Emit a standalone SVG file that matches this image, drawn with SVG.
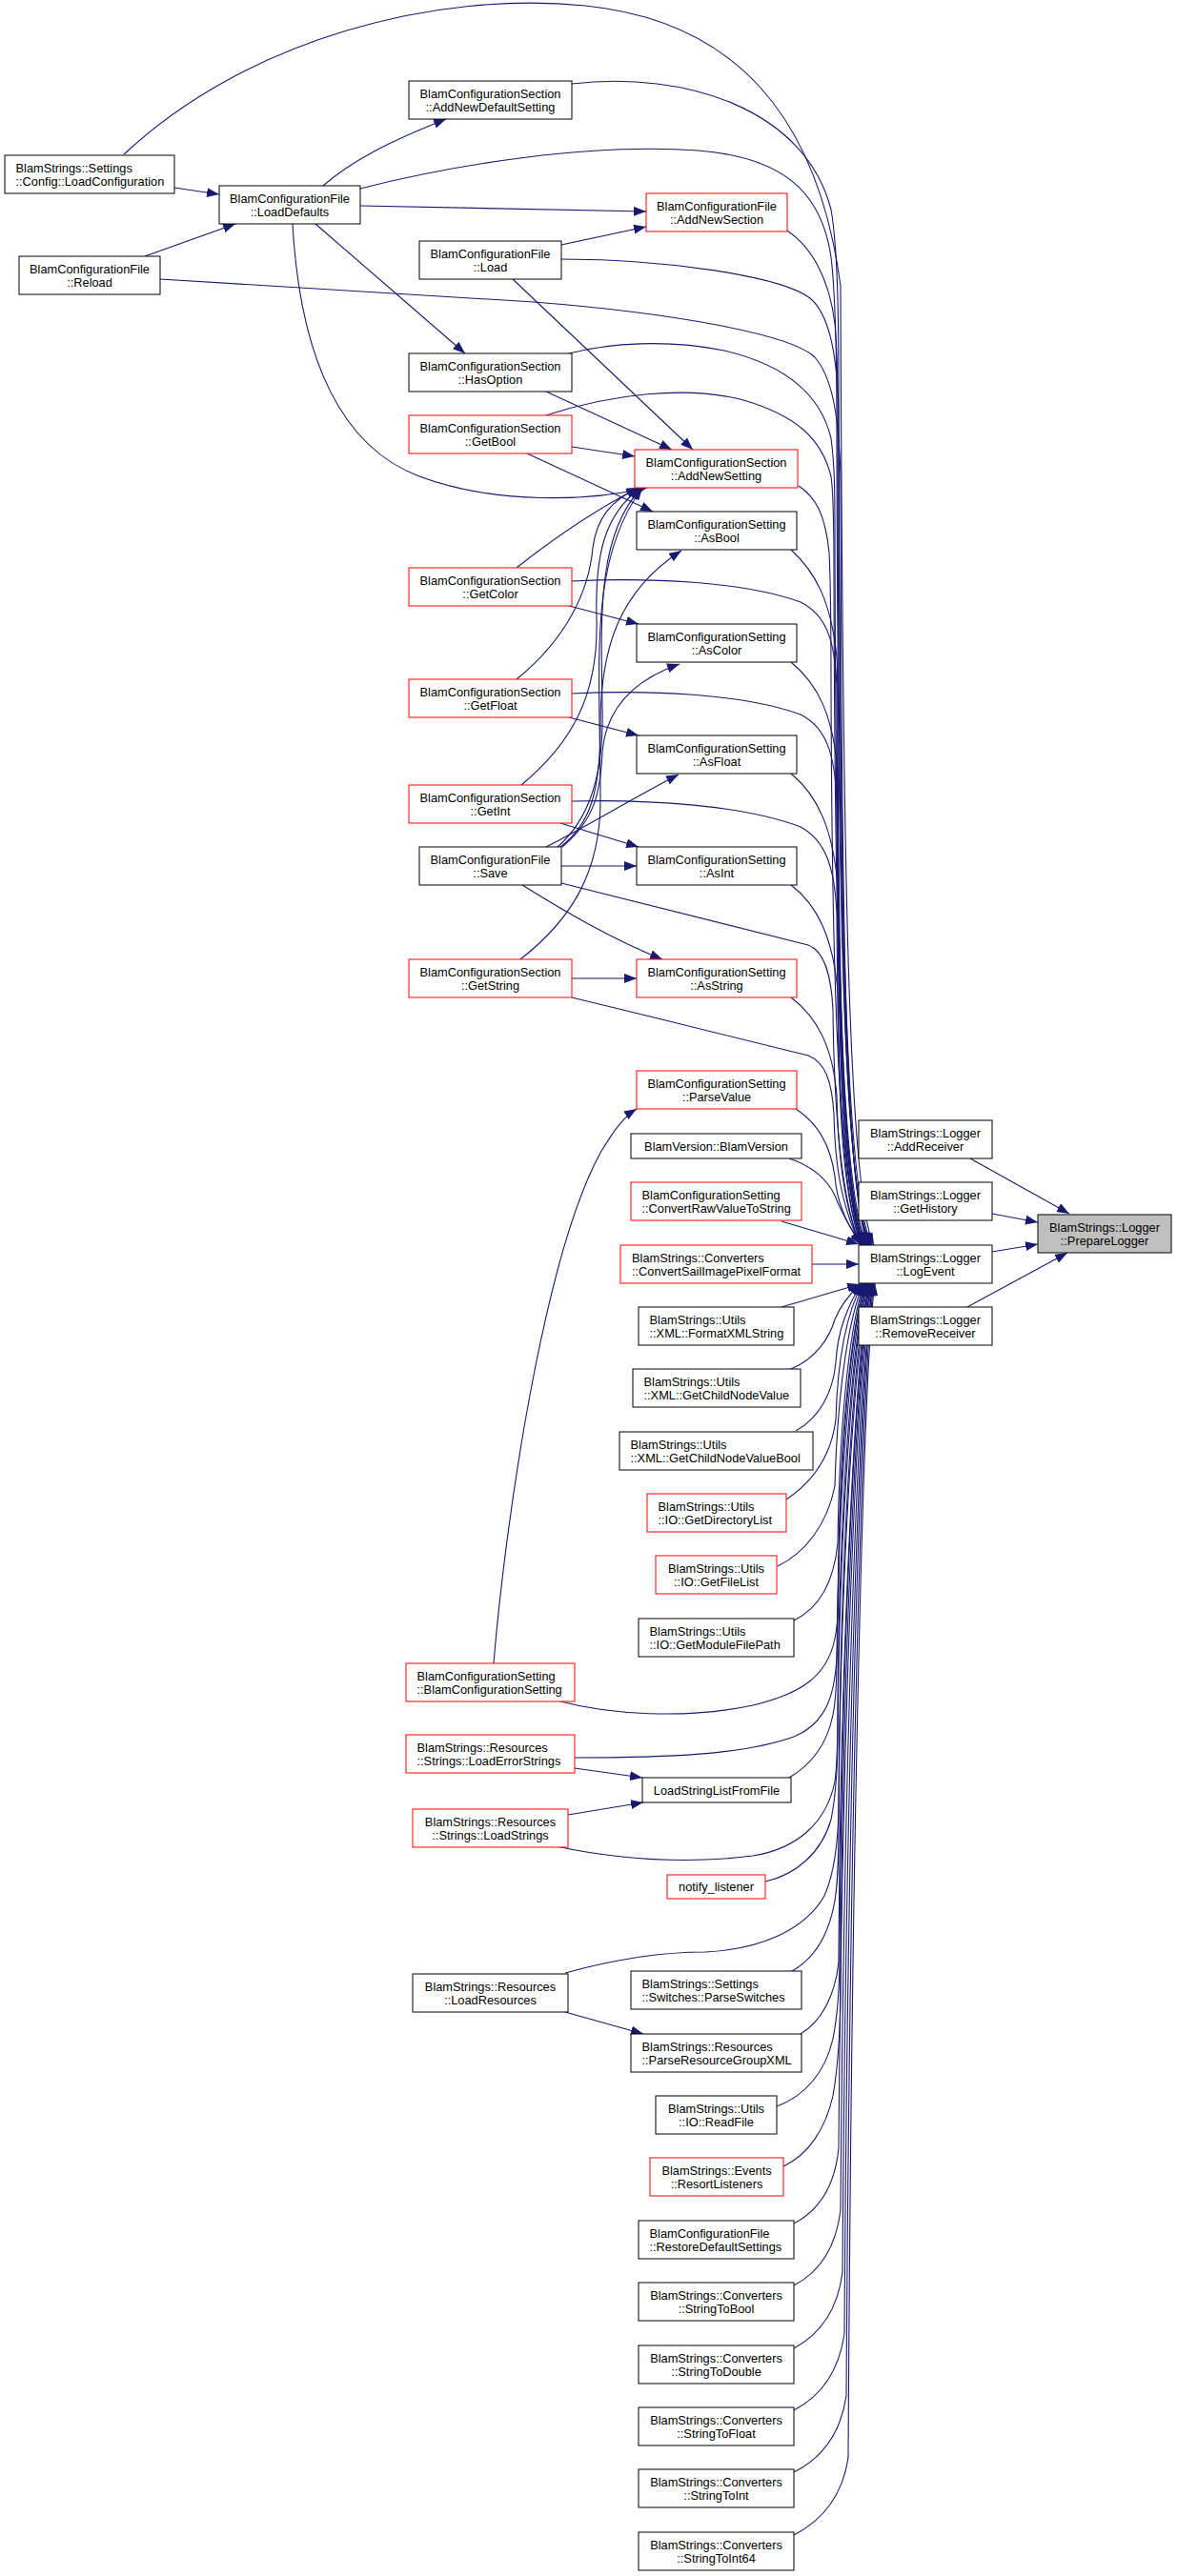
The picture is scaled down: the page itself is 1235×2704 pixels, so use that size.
<svg xmlns="http://www.w3.org/2000/svg" width="1235" height="2704" viewBox="0 0 1235 2704">
<style>
.n rect{fill:#fff;stroke:#000;stroke-width:1}
.n.r rect{stroke:#ff0000}
.n.g rect{fill:#bfbfbf}
text{font-family:"Liberation Sans",Arial,sans-serif;font-size:12.8px;fill:#000}
.c{text-anchor:middle}
.l{text-anchor:start}
.e path{fill:none;stroke:#191970;stroke-width:1.1;marker-end:url(#ah)}
</style>
<defs>
<marker id="ah" markerWidth="13" markerHeight="10" refX="13" refY="5" orient="auto" markerUnits="userSpaceOnUse"><path d="M0,0 L13,5 L0,10 z" fill="#191970"/></marker>
</defs>
<rect width="1235" height="2704" fill="#fff"/>
<g id="edges" class="e">
<path d="M183,197 L230,204"/>
<path d="M152,269 L247,235"/>
<path d="M339,195 C370,168 410,148 468,125"/>
<path d="M378,216 C500,218 600,221 678,222"/>
<path d="M331,235 L488,371"/>
<path d="M307,235 C315,380 360,470 440,500 C520,530 620,526 679,512"/>
<path d="M589,257 L678,238"/>
<path d="M538,293 L727,472"/>
<path d="M573,411 L705,472"/>
<path d="M600,469 L666,479"/>
<path d="M553,476 L685,537"/>
<path d="M542,596 C585,562 625,535 670,512"/>
<path d="M597,636 L670,655"/>
<path d="M542,713 C595,670 618,620 622,575 C626,545 640,525 671,512"/>
<path d="M597,753 L670,772"/>
<path d="M547,824 C600,780 628,730 626,650 C624,580 635,540 672,512"/>
<path d="M588,864 L670,889"/>
<path d="M585,889 C618,860 634,815 632,740 C630,640 628,560 673,512"/>
<path d="M588,889 C620,865 630,830 630,760 C630,680 650,620 715,578"/>
<path d="M590,889 C625,860 630,830 632,790 C636,740 670,712 713,697"/>
<path d="M573,889 C620,865 660,840 712,813"/>
<path d="M589,909 L668,909"/>
<path d="M548,929 C590,955 640,985 695,1007"/>
<path d="M546,1007 C600,965 630,915 630,840 C630,700 616,590 674,512"/>
<path d="M600,1027 L668,1027"/>
<path d="M518,1746 C530,1600 570,1320 630,1210 C645,1185 655,1172 668,1164"/>
<path d="M603,1856 L674,1866"/>
<path d="M596,1905 L675,1892"/>
<path d="M593,2112 L675,2135"/>
<path d="M1018,1216 L1122,1274"/>
<path d="M1041,1274 L1089,1283"/>
<path d="M1041,1314 L1089,1306"/>
<path d="M1015,1372 L1120,1315"/>
<path d="M130,162 C260,40 460,-10 614,6 C770,22 858,120 882,300 C884,900 890,1255 917,1307"/>
<path d="M600,88 C720,74 845,115 872,220 C879,260 880,330 880,420 C881,950 887,1255 915,1307"/>
<path d="M378,198 C480,172 620,150 733,158 C820,165 862,200 872,270 C878,320 878,400 878,450 C879,950 885,1255 914,1307"/>
<path d="M826,242 C850,258 870,290 876,340 C880,380 879,430 879,480 C880,960 886,1255 913,1307"/>
<path d="M589,272 C700,272 820,290 850,313 C870,330 878,370 880,430 C881,950 886,1255 912,1307"/>
<path d="M168,293 L560,317 C700,328 830,350 855,375 C872,395 880,430 882,500 C883,1000 888,1255 911,1307"/>
<path d="M597,371 C640,360 700,356 760,368 C820,382 860,410 872,460 C876,490 876,520 876,560 C877,1000 883,1255 910,1307"/>
<path d="M573,436 C640,414 720,404 780,420 C835,436 862,460 872,500 C875,520 875,560 875,600 C876,1000 882,1255 909,1307"/>
<path d="M838,510 C856,522 866,540 870,580 C872,620 872,680 872,720 C873,1050 880,1255 908,1307"/>
<path d="M830,577 C855,600 872,630 878,690 C879,710 879,740 879,760 C880,1050 885,1255 907,1307"/>
<path d="M600,610 C680,606 780,610 840,632 C866,645 876,670 878,720 C879,1050 884,1255 906,1307"/>
<path d="M830,695 C858,718 874,750 879,810 C880,1080 885,1255 906,1307"/>
<path d="M600,728 C680,724 780,728 840,750 C866,763 876,790 878,840 C879,1080 884,1255 905,1307"/>
<path d="M830,812 C858,835 874,870 879,930 C880,1100 884,1255 905,1307"/>
<path d="M600,841 C680,839 780,845 840,868 C866,882 876,910 878,960 C879,1120 883,1255 904,1307"/>
<path d="M830,929 C858,950 874,985 879,1040 C880,1150 883,1255 904,1307"/>
<path d="M589,927 L848,992 C864,998 872,1020 874,1060 C875,1150 880,1255 903,1307"/>
<path d="M600,1047 C680,1066 790,1094 848,1108 C866,1115 873,1135 875,1170 C876,1220 882,1265 903,1307"/>
<path d="M830,1047 C858,1068 874,1100 878,1150 C879,1200 884,1265 903,1307"/>
<path d="M835,1164 C860,1180 872,1205 876,1235 C878,1260 888,1285 904,1307"/>
<path d="M828,1216 C852,1224 868,1238 876,1255 C882,1270 892,1290 905,1307"/>
<path d="M820,1282 L901,1306"/>
<path d="M852,1327 L901,1327"/>
<path d="M820,1372 L902,1348"/>
<path d="M830,1437 C856,1426 870,1405 876,1385 C882,1370 892,1358 903,1347"/>
<path d="M835,1502 C860,1488 874,1462 877,1430 C879,1395 890,1370 904,1347"/>
<path d="M825,1574 C852,1556 872,1530 877,1490 C879,1420 890,1375 905,1347"/>
<path d="M816,1644 C845,1630 868,1600 876,1560 C879,1450 892,1380 906,1347"/>
<path d="M833,1701 C860,1688 875,1660 879,1620 C881,1480 893,1385 907,1347"/>
<path d="M584,1785 C640,1800 720,1805 790,1790 C840,1778 868,1760 876,1720 C880,1700 880,1680 880,1650 C881,1500 894,1390 908,1347"/>
<path d="M603,1845 C700,1845 780,1842 833,1823 C860,1812 872,1790 876,1760 C879,1740 879,1720 879,1700 C880,1520 894,1392 908,1347"/>
<path d="M828,1866 C852,1852 868,1830 874,1800 C878,1780 878,1760 878,1740 C880,1540 895,1395 909,1347"/>
<path d="M583,1938 C650,1952 720,1957 790,1948 C840,1940 868,1910 876,1870 C879,1850 879,1820 879,1790 C881,1560 896,1397 910,1347"/>
<path d="M803,1975 C835,1968 862,1945 872,1910 C878,1880 879,1850 879,1820 C881,1580 897,1400 910,1347"/>
<path d="M593,2071 C640,2058 690,2049 740,2049 C800,2046 845,2025 865,1990 C876,1965 880,1930 880,1890 C882,1600 898,1405 911,1347"/>
<path d="M831,2069 C856,2055 870,2030 876,1995 C880,1970 880,1940 880,1910 C882,1620 899,1405 912,1347"/>
<path d="M840,2135 C862,2122 876,2095 880,2060 C882,1700 900,1410 912,1347"/>
<path d="M815,2211 C845,2200 866,2175 874,2140 C880,2110 881,2080 881,2050 C883,1700 900,1410 913,1347"/>
<path d="M822,2274 C848,2262 866,2235 874,2200 C881,2160 882,2120 882,2080 C884,1720 901,1410 914,1347"/>
<path d="M833,2334 C860,2320 876,2295 880,2255 C884,1750 902,1412 914,1347"/>
<path d="M833,2399 C860,2385 877,2360 882,2320 C886,1780 903,1415 915,1347"/>
<path d="M833,2465 C861,2450 879,2425 884,2385 C888,1800 904,1418 916,1347"/>
<path d="M833,2530 C862,2515 880,2490 886,2450 C890,1820 905,1420 916,1347"/>
<path d="M833,2595 C863,2580 882,2555 888,2515 C892,1850 906,1422 917,1347"/>
<path d="M833,2661 C864,2645 884,2620 890,2580 C894,1870 907,1425 918,1347"/>
</g>
<g id="n_loadconfiguration" class="n"><rect x="5" y="163" width="178" height="40"/><text class="l" x="16.5" y="180.5">BlamStrings::Settings</text><text class="l" x="16.5" y="194.5">::Config::LoadConfiguration</text></g>
<g id="n_loaddefaults" class="n"><rect x="230" y="195" width="148" height="40"/><text class="c" x="304" y="212.5">BlamConfigurationFile</text><text class="c" x="304" y="226.5">::LoadDefaults</text></g>
<g id="n_reload" class="n"><rect x="20" y="269" width="148" height="40"/><text class="c" x="94" y="286.5">BlamConfigurationFile</text><text class="c" x="94" y="300.5">::Reload</text></g>
<g id="n_addnewdefaultsetting" class="n"><rect x="429" y="85" width="171" height="40"/><text class="c" x="514.5" y="102.5">BlamConfigurationSection</text><text class="c" x="514.5" y="116.5">::AddNewDefaultSetting</text></g>
<g id="n_addnewsection" class="n r"><rect x="678" y="203" width="148" height="40"/><text class="c" x="752" y="220.5">BlamConfigurationFile</text><text class="c" x="752" y="234.5">::AddNewSection</text></g>
<g id="n_load" class="n"><rect x="440" y="253" width="149" height="40"/><text class="c" x="514.5" y="270.5">BlamConfigurationFile</text><text class="c" x="514.5" y="284.5">::Load</text></g>
<g id="n_hasoption" class="n"><rect x="429" y="371" width="171" height="40"/><text class="c" x="514.5" y="388.5">BlamConfigurationSection</text><text class="c" x="514.5" y="402.5">::HasOption</text></g>
<g id="n_getbool" class="n r"><rect x="429" y="436" width="171" height="40"/><text class="c" x="514.5" y="453.5">BlamConfigurationSection</text><text class="c" x="514.5" y="467.5">::GetBool</text></g>
<g id="n_addnewsetting" class="n r"><rect x="666" y="472" width="171" height="40"/><text class="c" x="751.5" y="489.5">BlamConfigurationSection</text><text class="c" x="751.5" y="503.5">::AddNewSetting</text></g>
<g id="n_asbool" class="n"><rect x="668" y="537" width="168" height="40"/><text class="c" x="752" y="554.5">BlamConfigurationSetting</text><text class="c" x="752" y="568.5">::AsBool</text></g>
<g id="n_getcolor" class="n r"><rect x="429" y="596" width="171" height="40"/><text class="c" x="514.5" y="613.5">BlamConfigurationSection</text><text class="c" x="514.5" y="627.5">::GetColor</text></g>
<g id="n_ascolor" class="n"><rect x="668" y="655" width="168" height="40"/><text class="c" x="752" y="672.5">BlamConfigurationSetting</text><text class="c" x="752" y="686.5">::AsColor</text></g>
<g id="n_getfloat" class="n r"><rect x="429" y="713" width="171" height="40"/><text class="c" x="514.5" y="730.5">BlamConfigurationSection</text><text class="c" x="514.5" y="744.5">::GetFloat</text></g>
<g id="n_asfloat" class="n"><rect x="668" y="772" width="168" height="40"/><text class="c" x="752" y="789.5">BlamConfigurationSetting</text><text class="c" x="752" y="803.5">::AsFloat</text></g>
<g id="n_getint" class="n r"><rect x="429" y="824" width="171" height="40"/><text class="c" x="514.5" y="841.5">BlamConfigurationSection</text><text class="c" x="514.5" y="855.5">::GetInt</text></g>
<g id="n_save" class="n"><rect x="440" y="889" width="149" height="40"/><text class="c" x="514.5" y="906.5">BlamConfigurationFile</text><text class="c" x="514.5" y="920.5">::Save</text></g>
<g id="n_asint" class="n"><rect x="668" y="889" width="168" height="40"/><text class="c" x="752" y="906.5">BlamConfigurationSetting</text><text class="c" x="752" y="920.5">::AsInt</text></g>
<g id="n_getstring" class="n r"><rect x="429" y="1007" width="171" height="40"/><text class="c" x="514.5" y="1024.5">BlamConfigurationSection</text><text class="c" x="514.5" y="1038.5">::GetString</text></g>
<g id="n_asstring" class="n r"><rect x="668" y="1007" width="168" height="40"/><text class="c" x="752" y="1024.5">BlamConfigurationSetting</text><text class="c" x="752" y="1038.5">::AsString</text></g>
<g id="n_parsevalue" class="n r"><rect x="668" y="1124" width="168" height="40"/><text class="c" x="752" y="1141.5">BlamConfigurationSetting</text><text class="c" x="752" y="1155.5">::ParseValue</text></g>
<g id="n_blamversion" class="n"><rect x="662" y="1190" width="179" height="26"/><text class="c" x="751.5" y="1207.5">BlamVersion::BlamVersion</text></g>
<g id="n_convertrawvaluetostring" class="n r"><rect x="662" y="1241" width="179" height="40"/><text class="l" x="673.5" y="1258.5">BlamConfigurationSetting</text><text class="l" x="673.5" y="1272.5">::ConvertRawValueToString</text></g>
<g id="n_convertsailimagepixelformat" class="n r"><rect x="651" y="1307" width="201" height="40"/><text class="l" x="663" y="1324.5">BlamStrings::Converters</text><text class="l" x="663" y="1338.5">::ConvertSailImagePixelFormat</text></g>
<g id="n_formatxmlstring" class="n"><rect x="670" y="1372" width="163" height="40"/><text class="l" x="681.5" y="1389.5">BlamStrings::Utils</text><text class="l" x="681.5" y="1403.5">::XML::FormatXMLString</text></g>
<g id="n_getchildnodevalue" class="n"><rect x="664" y="1437" width="176" height="40"/><text class="l" x="675.5" y="1454.5">BlamStrings::Utils</text><text class="l" x="675.5" y="1468.5">::XML::GetChildNodeValue</text></g>
<g id="n_getchildnodevaluebool" class="n"><rect x="650" y="1503" width="203" height="40"/><text class="l" x="661.5" y="1520.5">BlamStrings::Utils</text><text class="l" x="661.5" y="1534.5">::XML::GetChildNodeValueBool</text></g>
<g id="n_getdirectorylist" class="n r"><rect x="679" y="1568" width="146" height="40"/><text class="l" x="690.5" y="1585.5">BlamStrings::Utils</text><text class="l" x="690.5" y="1599.5">::IO::GetDirectoryList</text></g>
<g id="n_getfilelist" class="n r"><rect x="688" y="1633" width="127" height="40"/><text class="c" x="751.5" y="1650.5">BlamStrings::Utils</text><text class="c" x="751.5" y="1664.5">::IO::GetFileList</text></g>
<g id="n_getmodulefilepath" class="n"><rect x="670" y="1699" width="163" height="40"/><text class="l" x="681.5" y="1716.5">BlamStrings::Utils</text><text class="l" x="681.5" y="1730.5">::IO::GetModuleFilePath</text></g>
<g id="n_blamconfigurationsetting" class="n r"><rect x="426" y="1746" width="177" height="40"/><text class="l" x="437.5" y="1763.5">BlamConfigurationSetting</text><text class="l" x="437.5" y="1777.5">::BlamConfigurationSetting</text></g>
<g id="n_loaderrorstrings" class="n r"><rect x="426" y="1821" width="177" height="40"/><text class="l" x="437.5" y="1838.5">BlamStrings::Resources</text><text class="l" x="437.5" y="1852.5">::Strings::LoadErrorStrings</text></g>
<g id="n_loadstringlistfromfile" class="n"><rect x="674" y="1866" width="156" height="26"/><text class="c" x="752" y="1883.5">LoadStringListFromFile</text></g>
<g id="n_loadstrings" class="n r"><rect x="433" y="1899" width="163" height="40"/><text class="c" x="514.5" y="1916.5">BlamStrings::Resources</text><text class="c" x="514.5" y="1930.5">::Strings::LoadStrings</text></g>
<g id="n_notify_listener" class="n r"><rect x="700" y="1968" width="103" height="25"/><text class="c" x="751.5" y="1984.5">notify_listener</text></g>
<g id="n_loadresources" class="n"><rect x="433" y="2072" width="163" height="40"/><text class="c" x="514.5" y="2089.5">BlamStrings::Resources</text><text class="c" x="514.5" y="2103.5">::LoadResources</text></g>
<g id="n_parseswitches" class="n"><rect x="662" y="2069" width="179" height="40"/><text class="l" x="673.5" y="2086.5">BlamStrings::Settings</text><text class="l" x="673.5" y="2100.5">::Switches::ParseSwitches</text></g>
<g id="n_parseresourcegroupxml" class="n"><rect x="662" y="2135" width="179" height="40"/><text class="l" x="673.5" y="2152.5">BlamStrings::Resources</text><text class="l" x="673.5" y="2166.5">::ParseResourceGroupXML</text></g>
<g id="n_readfile" class="n"><rect x="688" y="2200" width="127" height="40"/><text class="c" x="751.5" y="2217.5">BlamStrings::Utils</text><text class="c" x="751.5" y="2231.5">::IO::ReadFile</text></g>
<g id="n_resortlisteners" class="n r"><rect x="682" y="2265" width="140" height="40"/><text class="c" x="752" y="2282.5">BlamStrings::Events</text><text class="c" x="752" y="2296.5">::ResortListeners</text></g>
<g id="n_restoredefaultsettings" class="n"><rect x="670" y="2331" width="163" height="40"/><text class="l" x="681.5" y="2348.5">BlamConfigurationFile</text><text class="l" x="681.5" y="2362.5">::RestoreDefaultSettings</text></g>
<g id="n_stringtobool" class="n"><rect x="670" y="2396" width="163" height="40"/><text class="c" x="751.5" y="2413.5">BlamStrings::Converters</text><text class="c" x="751.5" y="2427.5">::StringToBool</text></g>
<g id="n_stringtodouble" class="n"><rect x="670" y="2462" width="163" height="40"/><text class="c" x="751.5" y="2479.5">BlamStrings::Converters</text><text class="c" x="751.5" y="2493.5">::StringToDouble</text></g>
<g id="n_stringtofloat" class="n"><rect x="670" y="2527" width="163" height="40"/><text class="c" x="751.5" y="2544.5">BlamStrings::Converters</text><text class="c" x="751.5" y="2558.5">::StringToFloat</text></g>
<g id="n_stringtoint" class="n"><rect x="670" y="2592" width="163" height="40"/><text class="c" x="751.5" y="2609.5">BlamStrings::Converters</text><text class="c" x="751.5" y="2623.5">::StringToInt</text></g>
<g id="n_stringtoint64" class="n"><rect x="670" y="2658" width="163" height="40"/><text class="c" x="751.5" y="2675.5">BlamStrings::Converters</text><text class="c" x="751.5" y="2689.5">::StringToInt64</text></g>
<g id="n_addreceiver" class="n"><rect x="901" y="1176" width="140" height="40"/><text class="c" x="971" y="1193.5">BlamStrings::Logger</text><text class="c" x="971" y="1207.5">::AddReceiver</text></g>
<g id="n_gethistory" class="n"><rect x="901" y="1241" width="140" height="40"/><text class="c" x="971" y="1258.5">BlamStrings::Logger</text><text class="c" x="971" y="1272.5">::GetHistory</text></g>
<g id="n_logevent" class="n"><rect x="901" y="1307" width="140" height="40"/><text class="c" x="971" y="1324.5">BlamStrings::Logger</text><text class="c" x="971" y="1338.5">::LogEvent</text></g>
<g id="n_removereceiver" class="n"><rect x="901" y="1372" width="140" height="40"/><text class="c" x="971" y="1389.5">BlamStrings::Logger</text><text class="c" x="971" y="1403.5">::RemoveReceiver</text></g>
<g id="n_preparelogger" class="n g"><rect x="1089" y="1275" width="140" height="40"/><text class="c" x="1159" y="1292.5">BlamStrings::Logger</text><text class="c" x="1159" y="1306.5">::PrepareLogger</text></g>
</svg>
